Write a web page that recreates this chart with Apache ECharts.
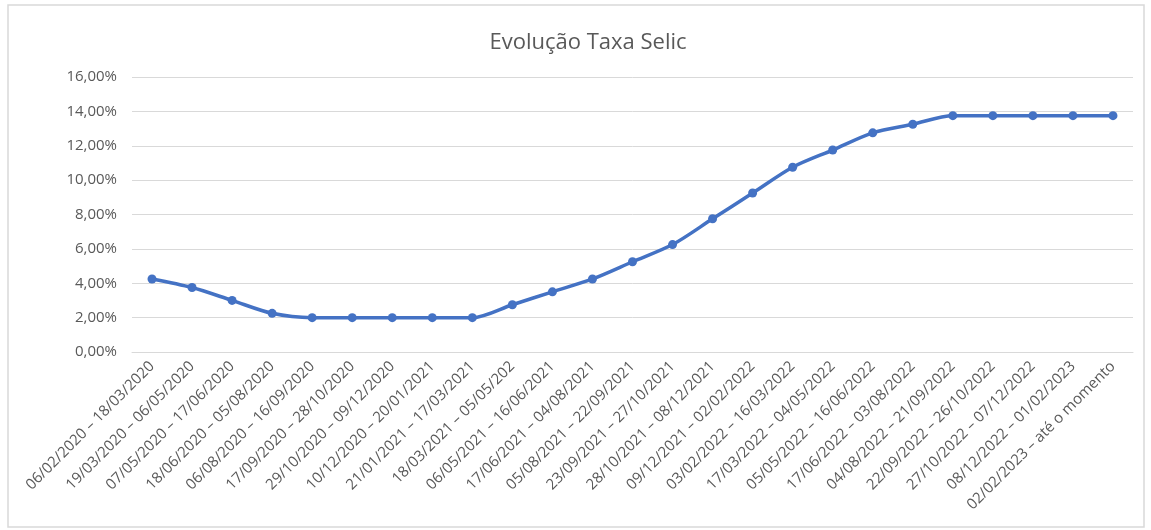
<!DOCTYPE html>
<html>
<head>
<meta charset="utf-8">
<script src="https://cdn.jsdelivr.net/npm/echarts@6/dist/echarts.min.js"></script>
<style>html,body{margin:0;padding:0;background:#fff;}#c{width:1151px;height:530px;}</style>
</head>
<body>
<div id="c"></div>
<script>
const titleText = "Evolução Taxa Selic";
const categories = [
  "06/02/2020 – 18/03/2020",
  "19/03/2020 – 06/05/2020",
  "07/05/2020 – 17/06/2020",
  "18/06/2020 – 05/08/2020",
  "06/08/2020 – 16/09/2020",
  "17/09/2020 – 28/10/2020",
  "29/10/2020 – 09/12/2020",
  "10/12/2020 – 20/01/2021",
  "21/01/2021 – 17/03/2021",
  "18/03/2021 – 05/05/202",
  "06/05/2021 – 16/06/2021",
  "17/06/2021 – 04/08/2021",
  "05/08/2021 – 22/09/2021",
  "23/09/2021 – 27/10/2021",
  "28/10/2021 – 08/12/2021",
  "09/12/2021 – 02/02/2022",
  "03/02/2022 – 16/03/2022",
  "17/03/2022 – 04/05/2022",
  "05/05/2022 – 16/06/2022",
  "17/06/2022 – 03/08/2022",
  "04/08/2022 – 21/09/2022",
  "22/09/2022 – 26/10/2022",
  "27/10/2022 – 07/12/2022",
  "08/12/2022 – 01/02/2023",
  "02/02/2023 – até o momento"
];
const selic = [4.25, 3.75, 3.00, 2.25, 2.00, 2.00, 2.00, 2.00, 2.00, 2.75, 3.50, 4.25, 5.25, 6.25, 7.75, 9.25, 10.75, 11.75, 12.75, 13.25, 13.75, 13.75, 13.75, 13.75, 13.75];

const chart = echarts.init(document.getElementById('c'));
chart.setOption({
  animation: false,
  backgroundColor: '#fff',
  graphic: [{
    type: 'rect',
    shape: { x: 8, y: 5, width: 1136, height: 522 },
    style: { fill: 'none', stroke: '#d9d9d9', lineWidth: 1.5 },
    silent: true
  }],
  title: {
    text: titleText,
    left: 583,
    textAlign: 'center',
    top: 27,
    textStyle: { fontFamily: 'Open Sans', fontSize: 22, fontWeight: 'normal', color: '#595959' }
  },
  grid: { left: 132, right: 18, top: 77, bottom: 178, containLabel: false },
  xAxis: {
    type: 'category',
    data: categories,
    boundaryGap: true,
    axisLine: { lineStyle: { color: '#d9d9d9' } },
    axisTick: { show: false },
    axisLabel: {
      interval: 0,
      rotate: 45,
      margin: 12,
      fontFamily: 'Open Sans',
      fontSize: 15,
      color: '#595959'
    }
  },
  yAxis: {
    type: 'value',
    min: 0,
    max: 16,
    interval: 2,
    axisLine: { show: false },
    axisTick: { show: false },
    splitLine: { lineStyle: { color: '#d9d9d9' } },
    axisLabel: {
      margin: 15,
      fontFamily: 'Open Sans',
      fontSize: 15,
      color: '#595959',
      formatter: v => v.toFixed(2).replace('.', ',') + '%'
    }
  },
  series: [{
    type: 'line',
    data: selic,
    smooth: 0.3,
    symbol: 'circle',
    symbolSize: 9,
    lineStyle: { color: '#4472C4', width: 3.5 },
    itemStyle: { color: '#4472C4' }
  }]
});
</script>
</body>
</html>
